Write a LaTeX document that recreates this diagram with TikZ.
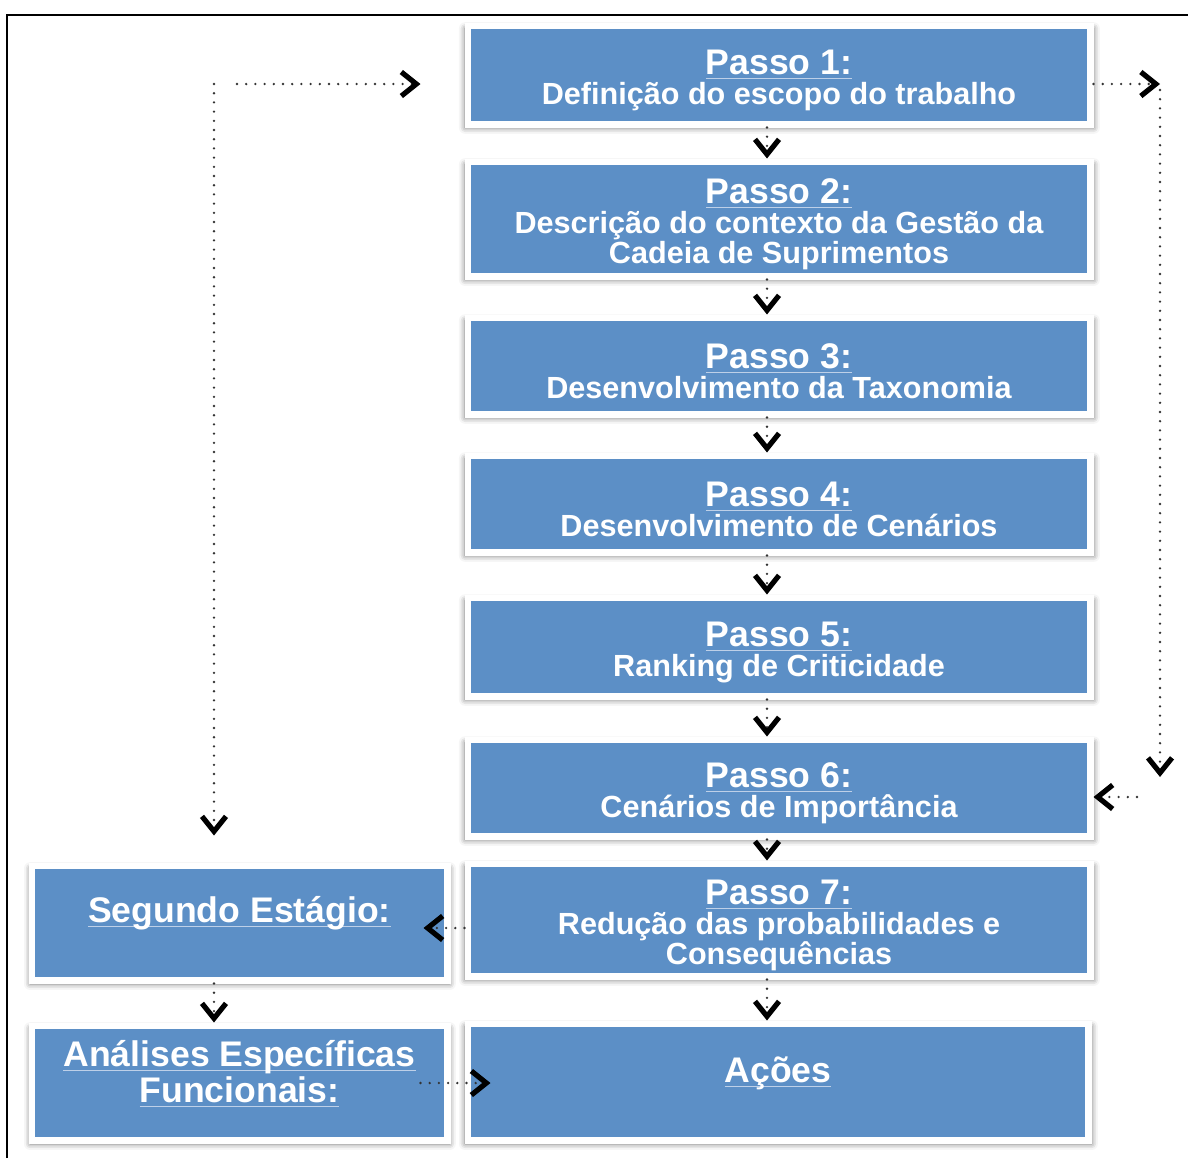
\documentclass[tikz,border=0pt]{standalone}
\usepackage{fontspec}
\setmainfont{Liberation Sans}
\usetikzlibrary{arrows.meta,calc,shadows.blur}

\definecolor{stepblue}{RGB}{92,143,198}
\definecolor{ruleblue}{RGB}{190,208,232}

% body text of the boxes
\newcommand\bodyfont{\fontsize{15.3}{14.9}\selectfont\bfseries}
% box titles, with their thin light rule under the text
\newcommand\titleline[1]{{\fontsize{17.8}{16.5}\selectfont\bfseries
  \setbox0\hbox{#1}\rlap{\color{ruleblue}\rule[-2.2pt]{\wd0}{0.45pt}}\box0}}
% a step title, with a strut that lowers the text block a little
\newcommand\steptitle[1]{\rule{0pt}{17.5pt}\titleline{#1}}

\tikzset{
  stepbox/.style={fill=stepblue, draw=white, line width=3.25pt,
    minimum width=311.25pt, inner sep=0pt, align=center, text=white,
    font=\bodyfont,
    blur shadow={shadow xshift=0.2pt, shadow yshift=-1.5pt, shadow scale=1.01,
      shadow blur radius=3pt, shadow opacity=55}},
  sidebox/.style={stepbox, minimum width=207.75pt},
  flow/.style={draw=black!80, line width=1.3pt, line cap=round,
    dash pattern=on 0pt off 4.6pt,
    -{Straight Barb[length=7.5pt, width=12pt, line width=2.6pt, color=black]}},
}

\begin{document}
\begin{tikzpicture}[x=0.5pt, y=-0.5pt]
\useasboundingbox (0,0) rectangle (1188,1158);

% page frame
\draw[line width=1pt] (7,1158) -- (7,15) -- (1188,15);

% main chain of steps
\node[stepbox, minimum height=49.25pt] (p1) at (779,75)
  {\steptitle{Passo 1:}\\Definição do escopo do trabalho};
\node[stepbox, minimum height=57.25pt] (p2) at (779,219)
  {\steptitle{Passo 2:}\\Descrição do contexto da Gestão da\\Cadeia de Suprimentos};
\node[stepbox, minimum height=48.25pt] (p3) at (779,366)
  {\steptitle{Passo 3:}\\Desenvolvimento da Taxonomia};
\node[stepbox, minimum height=48.25pt] (p4) at (779,504)
  {\steptitle{Passo 4:}\\Desenvolvimento de Cenários};
\node[stepbox, minimum height=49.25pt] (p5) at (779,647)
  {\steptitle{Passo 5:}\\Ranking de Criticidade};
\node[stepbox, minimum height=48.25pt] (p6) at (779,788)
  {\steptitle{Passo 6:}\\Cenários de Importância};
\node[stepbox, minimum height=56.25pt] (p7) at (779,920)
  {\steptitle{Passo 7:}\\Redução das probabilidades e\\Consequências};
\node[stepbox, minimum width=310.25pt, minimum height=58.25pt, text depth=12.6pt] (acoes) at (778,1082)
  {\titleline{Ações}};

% second-stage boxes
\node[sidebox, minimum height=57.25pt, text depth=13.5pt] (seg) at (239.5,923)
  {\titleline{Segundo Estágio:}};
\node[sidebox, minimum height=57.25pt, text depth=11.5pt,
  font=\fontsize{17.8}{15.5}\selectfont\bfseries] (ana) at (239.5,1083)
  {\titleline{Análises Específicas}\\\titleline{Funcionais:}};

% helper coordinates for the connector lines
\coordinate (ax) at (767,0);
\coordinate (lc) at (214,84);
\coordinate (lh) at (237,84);
\coordinate (rc) at (1160,84);
\coordinate (rt) at (1160,90);
\coordinate (rd) at (1160,777);
\coordinate (re) at (1137,797);
\coordinate (my) at (0,928);
\coordinate (ly) at (0,1083);

% step to step
\draw[flow] (p1.south -| ax) -- (p2.north -| ax);
\draw[flow] (p2.south -| ax) -- (p3.north -| ax);
\draw[flow] (p3.south -| ax) -- (p4.north -| ax);
\draw[flow] (p4.south -| ax) -- (p5.north -| ax);
\draw[flow] (p5.south -| ax) -- (p6.north -| ax);
\draw[flow] (p6.south -| ax) -- (p7.north -| ax);
\draw[flow] (p7.south -| ax) -- (acoes.north -| ax);

% left return loop
\draw[flow, shorten >=22pt] (lh) -- (p1.west |- lh);
\draw[flow, shorten >=13.5pt] (lc) -- (seg.north -| lc);

% right loop from step 1 to step 6
\draw[flow] (p1.east |- rc) -- (rc);
\draw[flow] (rt) -- (rd);
\draw[flow] (re) -- (p6.east |- re);

% second stage links
\draw[flow, shorten >=-13.5pt] (p7.west |- my) -- (seg.east |- my);
\draw[flow] (seg.south -| lc) -- (ana.north -| lc);
\draw[flow, shorten <=-15pt, shorten >=-13pt] (ana.east |- ly) -- (acoes.west |- ly);
\end{tikzpicture}
\end{document}
